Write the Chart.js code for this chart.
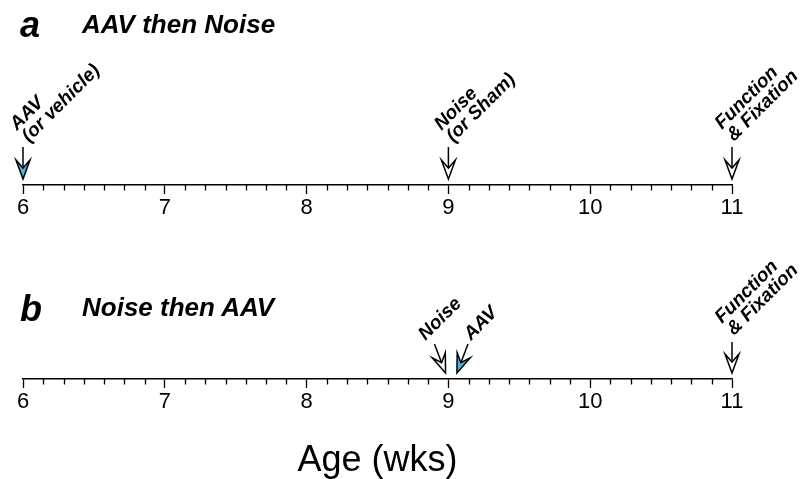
<!DOCTYPE html>
<html><head><meta charset="utf-8">
<script src="https://cdn.jsdelivr.net/npm/chart.js@4/dist/chart.umd.min.js"></script>
<style>
html,body{margin:0;padding:0;background:#fff;}
#wrap{position:relative;width:802px;height:479px;overflow:hidden;font-family:"Liberation Sans",Arial,Helvetica,sans-serif;}
canvas{position:absolute;left:0;}
.lbl{position:absolute;font-weight:bold;font-style:italic;color:#000;white-space:nowrap;line-height:1;}
</style></head><body>
<div id="wrap">
<canvas id="c1" width="802" height="240" style="top:0;width:802px;height:240px"></canvas>
<canvas id="c2" width="802" height="243" style="top:240px;width:802px;height:243px"></canvas>
<div class="lbl" id="la" style="left:20px;top:7px;font-size:36px"></div>
<div class="lbl" id="ta" style="left:82px;top:11px;font-size:26px"></div>
<div class="lbl" id="lb" style="left:20px;top:291px;font-size:36px"></div>
<div class="lbl" id="tb" style="left:82px;top:294px;font-size:26px"></div>
</div>
<script>
const FONT = "'Liberation Sans', Arial, Helvetica, sans-serif";

// ---- data ----
const weekTicks = [6, 7, 8, 9, 10, 11];
const tickLabels = ['6', '7', '8', '9', '10', '11'];
const daysPerWeek = 7;
const axisTitle = 'Age (wks)';

const panelA_letter = 'a';
const panelA_title = 'AAV then Noise';
const panelA_weeks = [6, 9, 11];
const panelA_labels = [['AAV', '(or vehicle)'], ['Noise', '(or Sham)'], ['Function', '& Fixation']];
const panelA_isAAV = [true, false, false];

const panelB_letter = 'b';
const panelB_title = 'Noise then AAV';
const panelB_weeks = [8.98, 9.06, 11];
const panelB_labels = [['Noise'], ['AAV'], ['Function', '& Fixation']];
const panelB_isAAV = [false, true, false];

// ---- styles ----
const CYAN = '#46b6e4';
const styleA = { tilt: [0, 0, 0], labelDx: [6, 5, 2], labelDy: [-42, -42, -43], tipGap: 6, shaft: 32 };
const styleB = { tilt: [21, -21, 0], labelDx: [-20, 14, 2], labelDy: [-38, -38, -43], tipGap: 6, shaft: 31 };

document.getElementById('la').textContent = panelA_letter;
document.getElementById('ta').textContent = panelA_title;
document.getElementById('lb').textContent = panelB_letter;
document.getElementById('tb').textContent = panelB_title;

function drawArrowHead(ctx, fill) {
  ctx.beginPath();
  ctx.moveTo(0, 0);
  ctx.lineTo(-7, -19);
  ctx.lineTo(0, -11);
  ctx.lineTo(7, -19);
  ctx.closePath();
  ctx.fillStyle = fill;
  ctx.fill();
  ctx.stroke();
}

const timelinePlugin = {
  id: 'timeline',
  afterDraw(chart, args, opts) {
    const ctx = chart.ctx;
    const xs = chart.scales.x;
    const axisY = xs.top;
    // minor (day) ticks
    ctx.save();
    ctx.strokeStyle = '#000';
    ctx.lineWidth = 1.3;
    xs.ticks.forEach(t => {
      if (!weekTicks.includes(t.value)) {
        const px = Math.round(xs.getPixelForValue(t.value)) + 0.5;
        ctx.beginPath();
        ctx.moveTo(px, axisY);
        ctx.lineTo(px, axisY + 5.5);
        ctx.stroke();
      }
    });
    ctx.restore();
    // event arrows + labels
    const meta = chart.getDatasetMeta(0);
    const ds = chart.data.datasets[0];
    const st = opts.style;
    meta.data.forEach((el, i) => {
      const tipX = el.x, tipY = el.y - st.tipGap;
      ctx.save();
      ctx.translate(tipX, tipY);
      ctx.rotate(-st.tilt[i] * Math.PI / 180);
      ctx.strokeStyle = '#000';
      ctx.lineWidth = 1.5;
      ctx.lineJoin = 'miter';
      ctx.beginPath();
      ctx.moveTo(0, -st.shaft);
      ctx.lineTo(0, -11);
      ctx.stroke();
      drawArrowHead(ctx, ds.isAAV[i] ? CYAN : '#fff');
      ctx.restore();
      // label
      const lines = ds.labels[i];
      ctx.save();
      ctx.translate(tipX + st.labelDx[i], el.y + st.labelDy[i]);
      ctx.rotate(-Math.PI / 4);
      ctx.font = 'italic bold 19px ' + FONT;
      ctx.fillStyle = '#000';
      ctx.textAlign = 'left';
      ctx.textBaseline = 'alphabetic';
      lines.forEach((ln, k) => ctx.fillText(ln, 0, (k - (lines.length - 1)) * 17));
      ctx.restore();
    });
  }
};

function makeChart(id, weeks, labels, isAAV, style, scaleH, showTitle) {
  return new Chart(document.getElementById(id), {
    type: 'scatter',
    data: {
      datasets: [{
        data: weeks.map(w => ({ x: w, y: 0 })),
        labels: labels,
        isAAV: isAAV,
        pointRadius: 0,
        clip: false
      }]
    },
    options: {
      responsive: false,
      animation: false,
      events: [],
      layout: { padding: { left: 23, right: 70, top: 10, bottom: 0 } },
      plugins: { legend: { display: false }, tooltip: { enabled: false }, timeline: { style: style } },
      scales: {
        y: { display: false, min: 0, max: 1 },
        x: {
          type: 'linear', min: weekTicks[0], max: weekTicks[weekTicks.length - 1], position: 'bottom',
          afterBuildTicks: s => {
            const t = [];
            weekTicks.forEach((w, i) => {
              t.push({ value: w });
              if (i < weekTicks.length - 1) for (let d = 1; d < daysPerWeek; d++) t.push({ value: w + d / daysPerWeek });
            });
            s.ticks = t;
          },
          afterFit: s => { s.height = scaleH; },
          ticks: {
            autoSkip: false, maxRotation: 0, minRotation: 0, color: '#000', padding: 1,
            font: { family: FONT, size: 22 },
            callback: (v) => { const i = weekTicks.indexOf(v); return i >= 0 ? tickLabels[i] : ''; }
          },
          grid: {
            drawOnChartArea: false, tickLength: 9, tickWidth: 1.3,
            tickColor: c => (c.tick && weekTicks.includes(c.tick.value)) ? '#000' : 'rgba(0,0,0,0)'
          },
          border: { color: '#000', width: 1.5 },
          title: { display: showTitle, text: axisTitle, color: '#000', font: { family: FONT, size: 36 }, padding: { top: 0, bottom: 0 } }
        }
      }
    },
    plugins: [timelinePlugin]
  });
}

makeChart('c1', panelA_weeks, panelA_labels, panelA_isAAV, styleA, 55, false);
makeChart('c2', panelB_weeks, panelB_labels, panelB_isAAV, styleB, 104, true);
</script>
</body></html>
